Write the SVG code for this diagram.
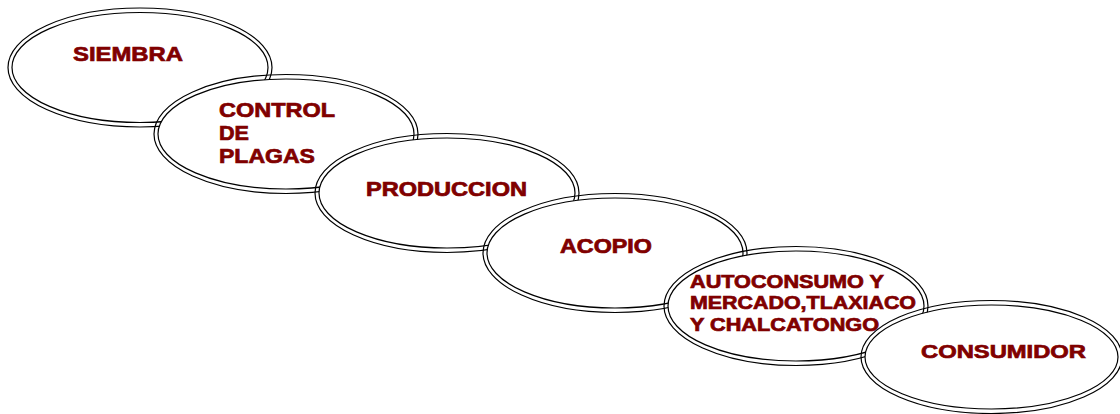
<svg xmlns="http://www.w3.org/2000/svg" width="1120" height="414" viewBox="0 0 1120 414">
<style>
.o{fill:none;stroke:#000;stroke-width:1.2}
.i{fill:#fff;stroke:#000;stroke-width:1.2}
.t{font-family:"Liberation Sans",Arial,sans-serif;font-weight:bold;fill:#800000;stroke:#800000;stroke-width:0.7}
</style>
<rect width="1120" height="414" fill="#fff"/>
<g id="connectors"></g>
<g id="siembra">
<ellipse class="o" cx="140" cy="67.5" rx="132" ry="59.5"/>
<ellipse class="i" cx="140" cy="67.5" rx="128" ry="55"/>
<text class="t" x="73" y="61" font-size="20.5" textLength="110" lengthAdjust="spacingAndGlyphs">SIEMBRA</text>
</g>
<g id="control">
<ellipse class="o" cx="286" cy="134" rx="132" ry="59.5"/>
<ellipse class="i" cx="286" cy="134" rx="128" ry="55"/>
<text class="t" font-size="20.5"><tspan x="219" y="117" textLength="116" lengthAdjust="spacingAndGlyphs">CONTROL</tspan><tspan x="219" y="140" textLength="30" lengthAdjust="spacingAndGlyphs">DE</tspan><tspan x="219" y="163" textLength="96" lengthAdjust="spacingAndGlyphs">PLAGAS</tspan></text>
</g>
<g id="produccion">
<ellipse class="o" cx="447" cy="193" rx="132" ry="59.5"/>
<ellipse class="i" cx="447" cy="193" rx="128" ry="55"/>
<text class="t" x="366" y="196" font-size="19.5" textLength="161" lengthAdjust="spacingAndGlyphs">PRODUCCION</text>
</g>
<g id="acopio">
<ellipse class="o" cx="615" cy="253" rx="132" ry="59.5"/>
<ellipse class="i" cx="615" cy="253" rx="128" ry="55"/>
<text class="t" x="560" y="253" font-size="19.5" textLength="92" lengthAdjust="spacingAndGlyphs">ACOPIO</text>
</g>
<g id="autoconsumo">
<ellipse class="o" cx="796" cy="306" rx="132" ry="59.5"/>
<ellipse class="i" cx="796" cy="306" rx="128" ry="55"/>
<text class="t" font-size="18"><tspan x="690" y="288" textLength="194" lengthAdjust="spacingAndGlyphs">AUTOCONSUMO Y</tspan><tspan x="690" y="309" textLength="226" lengthAdjust="spacingAndGlyphs">MERCADO,TLAXIACO</tspan><tspan x="690" y="331" textLength="189" lengthAdjust="spacingAndGlyphs">Y CHALCATONGO</tspan></text>
</g>
<g id="consumidor">
<ellipse class="o" cx="991.5" cy="357" rx="130.5" ry="56.5"/>
<ellipse class="i" cx="991.5" cy="357" rx="126.5" ry="52"/>
<text class="t" x="921" y="358" font-size="19" textLength="165" lengthAdjust="spacingAndGlyphs">CONSUMIDOR</text>
</g>
</svg>
